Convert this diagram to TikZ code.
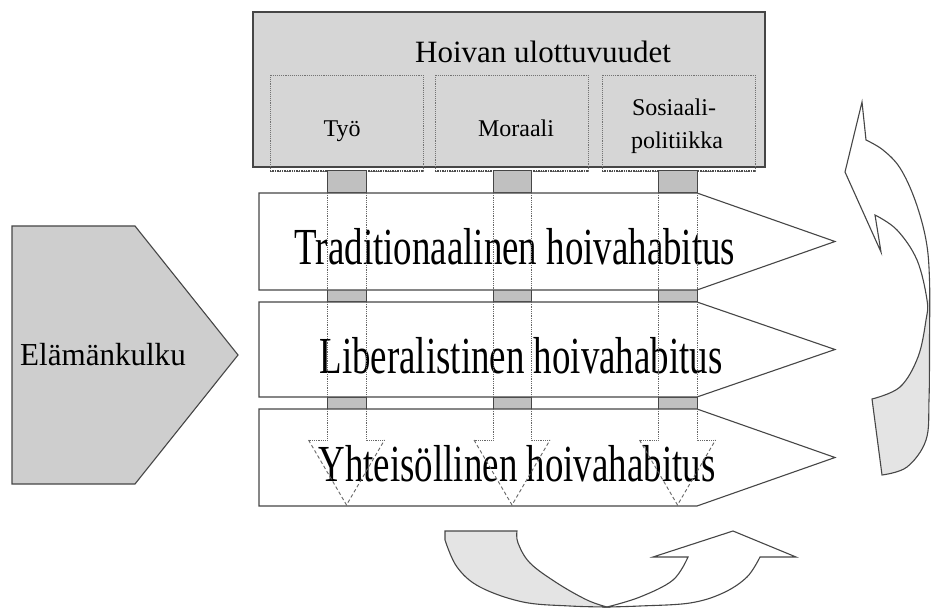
\documentclass[tikz,border=0pt]{standalone}
\usepackage{fontspec}
\setmainfont{Liberation Serif}
\definecolor{boxgray}{RGB}{214,214,214}
\definecolor{lifegray}{RGB}{206,206,206}
\definecolor{stubgray}{RGB}{192,192,192}
\definecolor{ribbongray}{RGB}{228,228,228}
\definecolor{edge}{RGB}{70,70,70}
\begin{document}
\begin{tikzpicture}[x=1pt,y=-1pt,
  ol/.style={draw=edge, line width=1.1pt, line join=miter},
  subbox/.style={draw=black!55, densely dotted, line width=0.9pt},
  stubbox/.style={fill=stubgray, draw=edge, line width=1pt},
  shaft/.style={draw=black!60, densely dotted, line width=0.8pt},
  headline/.style={draw=black!60, dash pattern=on 3.5pt off 2.5pt, line width=0.9pt},
  rowtxt/.style={font=\fontsize{52}{52}\selectfont, anchor=base, inner sep=0pt},
  subtxt/.style={font=\fontsize{24}{33}\selectfont, align=center, inner sep=0pt}]
\useasboundingbox (0,0) rectangle (931,609);
\begin{scope}
\clip (0,0) rectangle (931,609);

% main box
\draw[ol, fill=boxgray] (253,12) rectangle (765,167);
\node[font=\fontsize{31}{31}\selectfont, anchor=base, inner sep=0pt] (title) at (543,63) {Hoivan ulottuvuudet};
% sub boxes
\foreach \xa/\xb in {270/423, 435/588, 602/755}{
  \draw[subbox] (\xa,75) rectangle (\xb,171);
  \draw[black!70, densely dotted, line width=1.4pt] (\xa,171) -- (\xb,171);
}
\node[subtxt, anchor=base] (tyo) at (342,137) {Työ};
\node[subtxt, anchor=base] (moraali) at (516,137) {Moraali};
\node[subtxt, anchor=base] (sos1) at (674,116) {Sosiaali-};
\node[subtxt, anchor=base] (sos2) at (677,149) {politiikka};

% stubs
\foreach \xa/\xb in {327/366, 493/531, 658/697}{
  \draw[stubbox] (\xa,171) rectangle (\xb,193);
  \draw[stubbox] (\xa,290) rectangle (\xb,302);
  \draw[stubbox] (\xa,397) rectangle (\xb,409);
}

% row arrows
\draw[ol, fill=white] (259,193) -- (697,193) -- (835,241.5) -- (697,290) -- (259,290) -- cycle;
\draw[ol, fill=white] (259,302) -- (697,302) -- (835,349.5) -- (697,397) -- (259,397) -- cycle;
\draw[ol, fill=white] (259,409) -- (697,409) -- (835,457.5) -- (697,506) -- (259,506) -- cycle;

\node[rowtxt] (r1) at (515,265) {\scalebox{0.71}[1]{Traditionaalinen hoivahabitus}};
\node[rowtxt] (r2) at (521,373) {\scalebox{0.71}[1]{Liberalistinen hoivahabitus}};
\node[rowtxt] (r3) at (517,481) {\scalebox{0.71}[1]{Yhteisöllinen hoivahabitus}};

% dotted down arrows
\foreach \xa/\xb in {327/366, 493/531, 658/697}{
  \pgfmathsetmacro{\xc}{(\xa+\xb)/2}
  \pgfmathsetmacro{\hl}{\xc-38}
  \pgfmathsetmacro{\hr}{\xc+38}
  \draw[shaft] (\xa,193) -- (\xa,290);
  \draw[shaft] (\xb,193) -- (\xb,290);
  \draw[shaft] (\xa,302) -- (\xa,397);
  \draw[shaft] (\xb,302) -- (\xb,397);
  \draw[shaft] (\xa,409) -- (\xa,440) -- (\hl,440);
  \draw[shaft] (\xb,409) -- (\xb,440) -- (\hr,440);
  \draw[headline] (\hl,440) -- (\xc,505) -- (\hr,440);
}

% Elamankulku
\draw[ol, fill=lifegray] (12,226) -- (135,226) -- (238,355) -- (135,484) -- (12,484) -- cycle;
\node[font=\fontsize{32}{32}\selectfont, anchor=base, inner sep=0pt] (life) at (103,365) {\scalebox{0.97}[1]{Elämänkulku}};

% right curved arrow
\def\rightshape{(862,102) -- (866,140) -- plot[smooth, tension=0.6] coordinates {(866,140) (883,150) (900,168) (915,200) (926,240) (929.5,280) (929.5,340) (929,400) (926,440) (907,467) (882,475)} -- (872,399) -- plot[smooth, tension=0.6] coordinates {(872,399) (900,387) (918,357) (926,320) (927,300) (917,260) (897,230) (875,215)} -- (881,252) -- (845,172) -- cycle}
\fill[white] \rightshape;
\begin{scope}
  \clip \rightshape;
  \fill[ribbongray] plot[smooth, tension=0.6] coordinates {(872,399) (900,387) (918,357) (926,320) (927,300)} -- (960,290) -- (960,520) -- (860,520) -- cycle;
\end{scope}
\draw[ol] \rightshape;

% bottom curved arrow
\draw[ol, fill=ribbongray] (445,531) -- (517,531) -- plot[smooth, tension=0.6] coordinates {(517,531) (518,543) (530,563) (557,583) (587,600) (607,607)} -- plot[smooth, tension=0.6] coordinates {(607,607) (570,606) (523,602) (480,587) (457,567) (445,540)} -- cycle;
\draw[ol, fill=white] (607,607) -- plot[smooth, tension=0.6] coordinates {(607,607) (640,597) (673,580) (688,557)} -- (653,557) -- (733,531) -- (796,557) -- (760,557) -- plot[smooth, tension=0.6] coordinates {(760,557) (747,577) (723,593) (690,603) (640,606) (607,607)} -- cycle;
\end{scope}
\end{tikzpicture}
\end{document}
